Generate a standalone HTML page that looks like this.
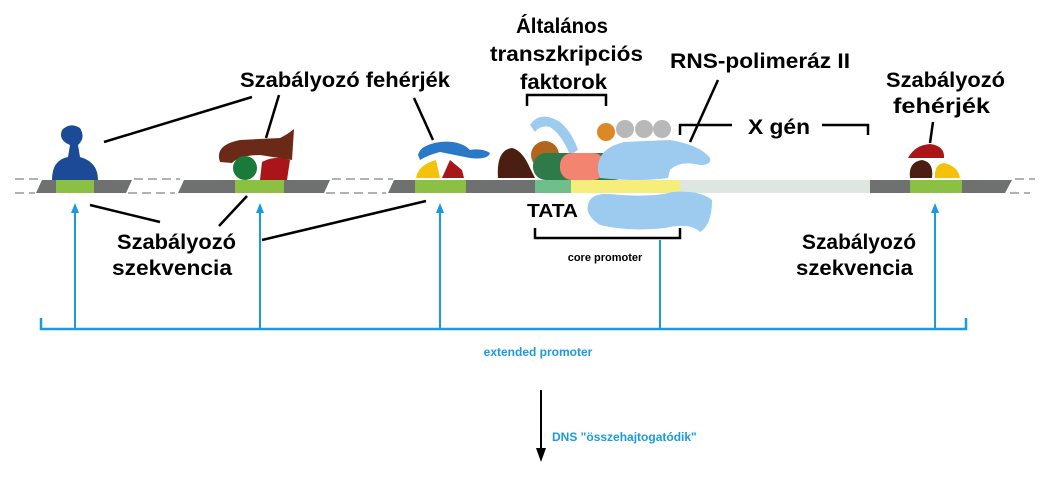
<!DOCTYPE html>
<html><head><meta charset="utf-8"><style>
html,body{margin:0;padding:0;background:#fff;}
svg{display:block;}
.b{font-family:"Liberation Sans",sans-serif;font-weight:bold;}
</style></head><body>
<svg width="1046" height="482" viewBox="0 0 1046 482" xmlns="http://www.w3.org/2000/svg">
<g stroke="#999" stroke-width="1.5" stroke-dasharray="9,5" fill="none">
<line x1="15" y1="179" x2="40" y2="179"/><line x1="15" y1="193" x2="35" y2="193"/>
<line x1="134" y1="179" x2="180" y2="179"/><line x1="128" y1="193" x2="175" y2="193"/>
<line x1="332" y1="179" x2="393" y2="179"/><line x1="326" y1="193" x2="386" y2="193"/>
<line x1="1015" y1="179" x2="1035" y2="179"/><line x1="1010" y1="193" x2="1030" y2="193"/>
</g>
<polygon points="42,180 132,180 126,193 36,193" fill="#6e716f"/>
<rect x="56" y="180" width="38" height="13" fill="#8cc043"/>
<polygon points="184,180 330,180 324,193 178,193" fill="#6e716f"/>
<rect x="235" y="180" width="49" height="13" fill="#8cc043"/>
<polygon points="394,180 870,180 870,193 388,193" fill="#6e716f"/>
<rect x="415" y="180" width="51" height="13" fill="#8cc043"/>
<rect x="535" y="180" width="36" height="13" fill="#6fbf8a"/>
<rect x="571" y="180" width="109" height="13" fill="#f5ee7a"/>
<rect x="680" y="180" width="190" height="13" fill="#dde6df"/>
<polygon points="870,180 1012,180 1005,193 870,193" fill="#6e716f"/>
<rect x="910" y="180" width="52" height="13" fill="#8cc043"/>
<path d="M52,180 Q52,160 68,157 L70,145 Q58,140 62,130 Q70,122 80,128 Q86,138 78,145 L80,157 Q98,162 98,180 Z" fill="#1c4a96"/>
<path d="M220,162 Q214,145 240,140 L280,138 Q288,134 294,129 L292,160 L260,155 Q240,155 232,163 Z" fill="#6b2a18"/>
<circle cx="245" cy="168" r="12" fill="#1a7a3a"/>
<path d="M260,180 L262,162 Q275,155 290,160 L287,180 Z" fill="#a8161a"/>
<path d="M418,155 Q420,145 440,142 Q460,140 470,150 Q482,148 490,153 Q488,160 470,158 Q455,155 440,152 Q428,155 420,160 Z" fill="#2a78c8"/>
<path d="M416,178 Q418,165 436,160 L440,178 Z" fill="#f2c20c"/>
<path d="M442,178 L450,160 L462,170 L464,178 Z" fill="#a8161a"/>
<path d="M498,178 Q496,150 512,148 Q522,150 530,168 L535,178 Z" fill="#4a1e10"/>
<circle cx="545" cy="155" r="14" fill="#b3651e"/>
<path d="M530,125 Q540,110 560,122 Q572,132 578,150 L570,155 Q562,135 550,127 Q540,125 535,132 Z" fill="#9dcbef"/>
<rect x="533" y="153" width="95" height="27" rx="13" fill="#2e7a48"/>
<rect x="560" y="153" width="45" height="27" rx="12" fill="#f28470"/>
<circle cx="606" cy="132" r="9" fill="#dc8826"/>
<circle cx="625" cy="129" r="9" fill="#b8b8b8"/>
<circle cx="644" cy="129" r="9" fill="#b8b8b8"/>
<circle cx="662" cy="129" r="9" fill="#b8b8b8"/>
<path d="M598,172 Q596,148 625,142 L670,140 Q700,145 710,158 Q712,165 700,165 Q680,160 670,170 L668,178 Q640,182 600,178 Z" fill="#9dcbef"/>
<path d="M588,205 Q590,193 610,194 Q650,198 672,192 Q700,190 712,200 Q712,225 700,232 Q690,222 665,228 Q630,232 600,225 Q585,215 588,205 Z" fill="#9dcbef"/>
<path d="M908,158 Q915,145 930,144 Q945,146 944,158 Z" fill="#a8161a"/>
<path d="M910,178 Q908,162 922,160 Q934,162 932,178 Z" fill="#4a1e10"/>
<path d="M935,178 Q934,164 944,163 Q958,166 960,178 Z" fill="#f2c20c"/>
<g stroke="#000" stroke-width="2.5" fill="none">
<line x1="104" y1="142" x2="252" y2="97"/>
<line x1="266" y1="138" x2="279" y2="95"/>
<line x1="433" y1="140" x2="414" y2="98"/>
<line x1="90" y1="205" x2="160" y2="222"/>
<line x1="247" y1="196" x2="219" y2="226"/>
<line x1="426" y1="201" x2="262" y2="240"/>
<line x1="718" y1="80" x2="690" y2="142"/>
<line x1="930" y1="143" x2="933" y2="122"/>
<polyline points="527,106 527,95 606,95 606,106"/>
<polyline points="535,228 535,238 680,238 680,228"/>
<polyline points="680,135 680,125 732,125"/>
<polyline points="822,125 868,125 868,135"/>
</g>
<g stroke="#1a9be0" stroke-width="2" fill="#1a9be0">
<line x1="75" y1="328" x2="75" y2="210"/>
<line x1="260" y1="328" x2="260" y2="210"/>
<line x1="440" y1="328" x2="440" y2="210"/>
<line x1="660" y1="328" x2="660" y2="240"/>
<line x1="935" y1="328" x2="935" y2="210"/>
<polyline points="41,318 41,329 966,329 966,318" fill="none" stroke-width="2.5"/>
</g>
<g fill="#1a9be0">
<polygon points="75,203 71,213 79,213"/><polygon points="260,203 256,213 264,213"/>
<polygon points="440,203 436,213 444,213"/><polygon points="935,203 931,213 939,213"/>
</g>
<line x1="541" y1="390" x2="541" y2="450" stroke="#000" stroke-width="2"/>
<polygon points="541,462 536,448 546,448" fill="#000"/>
<g class="b" font-size="21" fill="#000" lengthAdjust="spacingAndGlyphs">
<text x="516" y="33" textLength="92" lengthAdjust="spacingAndGlyphs">Általános</text>
<text x="490" y="61" textLength="153" lengthAdjust="spacingAndGlyphs">transzkripciós</text>
<text x="520" y="89" textLength="87" lengthAdjust="spacingAndGlyphs">faktorok</text>
<text x="670" y="68" textLength="180" lengthAdjust="spacingAndGlyphs">RNS-polimeráz II</text>
<text x="240" y="87" textLength="210" lengthAdjust="spacingAndGlyphs">Szabályozó fehérjék</text>
<text x="886" y="87" textLength="119" lengthAdjust="spacingAndGlyphs">Szabályozó</text>
<text x="893" y="113" textLength="97" lengthAdjust="spacingAndGlyphs">fehérjék</text>
<text x="748" y="134" textLength="62" lengthAdjust="spacingAndGlyphs">X gén</text>
<text x="117" y="249" textLength="119" lengthAdjust="spacingAndGlyphs">Szabályozó</text>
<text x="112" y="275" textLength="120" lengthAdjust="spacingAndGlyphs">szekvencia</text>
<text x="802" y="249" textLength="114" lengthAdjust="spacingAndGlyphs">Szabályozó</text>
<text x="796" y="275" textLength="117" lengthAdjust="spacingAndGlyphs">szekvencia</text>
<text x="527" y="217" font-size="18" textLength="51" lengthAdjust="spacingAndGlyphs">TATA</text>
</g>
<text x="605" y="261" class="b" font-size="11" text-anchor="middle" fill="#000">core promoter</text>
<text x="538" y="356" class="b" font-size="12" text-anchor="middle" fill="#1a9be0">extended promoter</text>
<text x="552" y="441" class="b" font-size="12" fill="#1a9be0">DNS "összehajtogatódik"</text>
</svg>
</body></html>
